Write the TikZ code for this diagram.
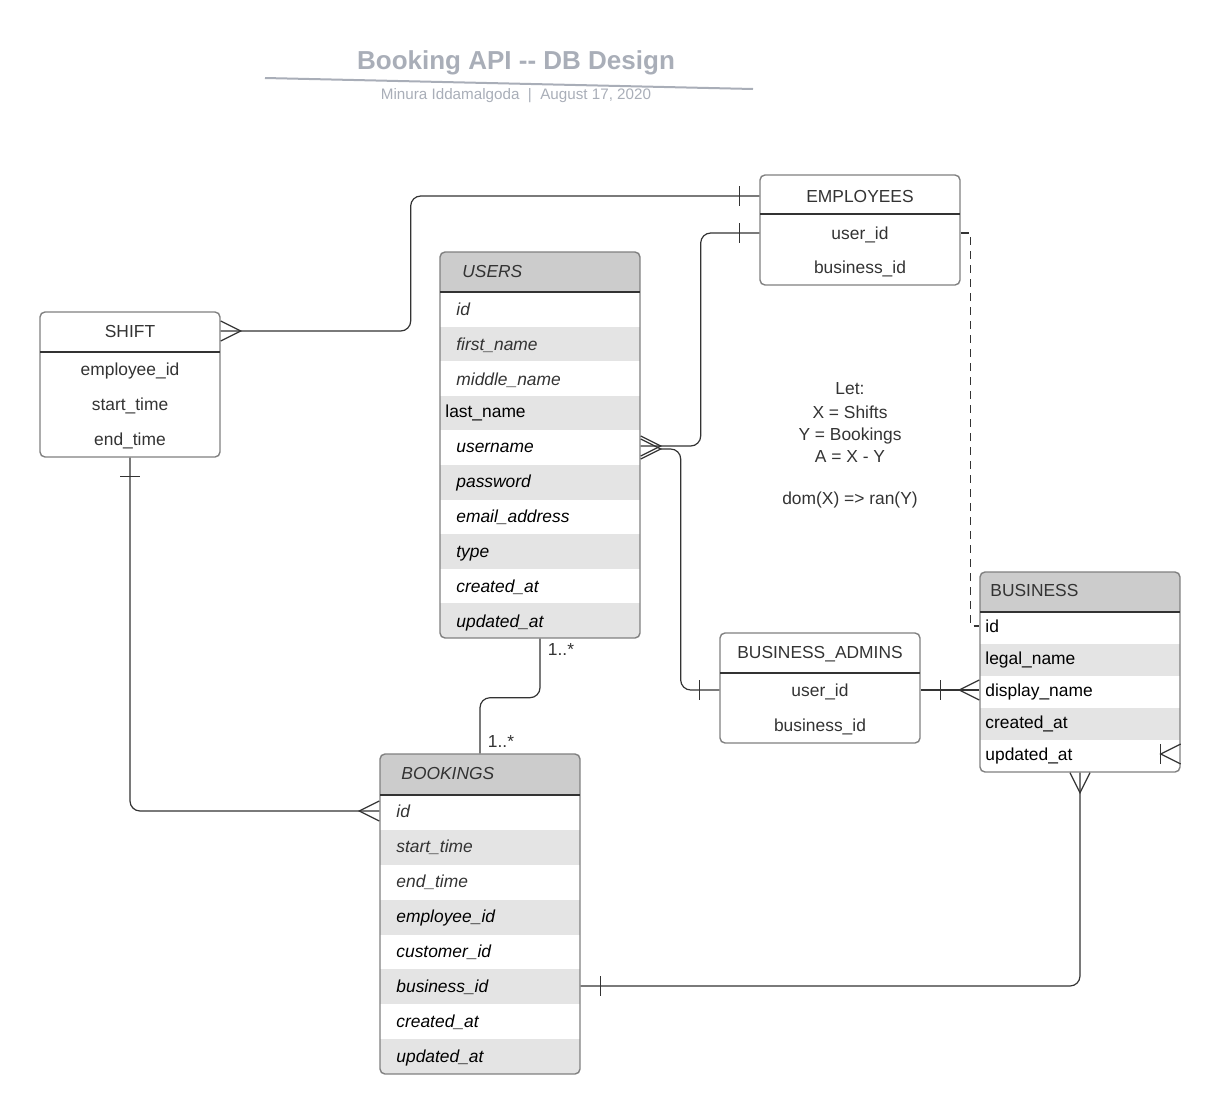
\documentclass[tikz,border=0pt]{standalone}
\usepackage{fontspec}
\setmainfont{Liberation Sans}
\usetikzlibrary{calc}
\definecolor{hdr}{HTML}{CCCCCC}
\definecolor{alt}{HTML}{E4E4E4}
\definecolor{frame}{HTML}{808080}
\definecolor{ink}{HTML}{333333}
\definecolor{ttl}{HTML}{A9AEB8}
\newcommand\fieldfont{\fontsize{8.7}{10}\selectfont}
\tikzstyle{table}=[draw=frame,line width=0.7pt,rounded corners=2.5pt,inner sep=0pt]
\tikzstyle{field}=[font=\fieldfont,text=ink,inner sep=0pt,text height=7pt,text depth=0.5pt]
\tikzstyle{left field}=[field,anchor=west]
\tikzstyle{conn}=[draw=ink,line width=0.6pt]
\tikzstyle{link}=[conn,rounded corners=5pt]
\newcommand{\mycrow}[2]
{  % #1 = point , #2 = rotation angle
  \begin{scope}[shift={(#1)},rotate=#2]
  \draw[conn] (0,-10) -- (20,0) -- (0,10);
  \end{scope}
}
\newcommand{\mybar}[2]
{  % #1 = point , #2 = rotation angle
  \begin{scope}[shift={(#1)},rotate=#2]
  \draw[conn] (0,-10) -- (0,10);
  \end{scope}
}
\begin{document}
\begin{tikzpicture}[x=0.5pt,y=-0.5pt]
  \useasboundingbox (0,0) rectangle (1221,1114);
  % title
  \node[font=\bfseries\fontsize{13}{15}\selectfont,text=ttl] (title) at (516,63) {Booking API -{}- DB Design};
  \draw[ttl,line width=1pt] (265,78) -- (753,89);
  \node[font=\fontsize{7.6}{9}\selectfont,text=ttl] (author) at (516,96) {Minura Iddamalgoda\ \ |\ \ August 17, 2020};
  % SHIFT
  \node[table,minimum width=90pt,minimum height=72.5pt] (shifts) at (130,384.5) {};
  \draw[conn] (40,352) -- (220,352);
  \node[field] (sh-title) at (130,331) {SHIFT};
  \node[field] (sh-employee) at (130,369) {employee\_id};
  \node[field] (sh-start) at (130,404) {start\_time};
  \node[field] (sh-end) at (130,439) {end\_time};
  % EMPLOYEES
  \node[table,minimum width=100pt,minimum height=55pt] (employees) at (860,230) {};
  \draw[conn] (760,214) -- (960,214);
  \node[field] (emp-title) at (860,196) {EMPLOYEES};
  \node[field] (emp-user) at (860,233) {user\_id};
  \node[field] (emp-business) at (860,267) {business\_id};
  % BUSINESS_ADMINS
  \node[table,minimum width=100pt,minimum height=55pt] (admins) at (820,688) {};
  \draw[conn] (720,673) -- (920,673);
  \node[field] (ad-title) at (820,652) {BUSINESS\_ADMINS};
  \node[field] (ad-user) at (820,690) {user\_id};
  \node[field] (ad-business) at (820,725) {business\_id};
  % USERS
  \begin{scope}
    \clip[rounded corners=2.5pt] (440,252) rectangle (640,638);
    \fill[hdr] (440,252) rectangle (640,292);
    \fill[alt] (440,326.6) rectangle (640,361.2);
    \fill[alt] (440,395.8) rectangle (640,430.4);
    \fill[alt] (440,465) rectangle (640,499.6);
    \fill[alt] (440,534.2) rectangle (640,568.8);
    \fill[alt] (440,603.4) rectangle (640,638);
  \end{scope}
  \node[table,minimum width=100pt,minimum height=193pt] (users) at (540,445) {};
  \draw[conn] (440,292) -- (640,292);
  \node[left field] (u-title) at (462,271) {\textit{USERS}};
  \node[left field] (u-id) at (456,309) {\textit{id}};
  \node[left field] (u-first) at (456,344) {\textit{first\_name}};
  \node[left field] (u-middle) at (456,379) {\textit{middle\_name}};
  \node[left field,text=black] (u-last) at (445,411) {last\_name};
  \node[left field,text=black] (u-username) at (456,446) {\textit{username}};
  \node[left field,text=black] (u-password) at (456,481) {\textit{password}};
  \node[left field,text=black] (u-email) at (456,516) {\textit{email\_address}};
  \node[left field,text=black] (u-type) at (456,551) {\textit{type}};
  \node[left field,text=black] (u-created) at (456,586) {\textit{created\_at}};
  \node[left field,text=black] (u-updated) at (456,621) {\textit{updated\_at}};
  % BOOKINGS
  \begin{scope}
    \clip[rounded corners=2.5pt] (380,754) rectangle (580,1074);
    \fill[hdr] (380,754) rectangle (580,795);
    \fill[alt] (380,829.9) rectangle (580,864.8);
    \fill[alt] (380,899.6) rectangle (580,934.5);
    \fill[alt] (380,969.4) rectangle (580,1004.3);
    \fill[alt] (380,1039.1) rectangle (580,1074);
  \end{scope}
  \node[table,minimum width=100pt,minimum height=160pt] (bookings) at (480,914) {};
  \draw[conn] (380,795) -- (580,795);
  \node[left field] (bk-title) at (401,773) {\textit{BOOKINGS}};
  \node[left field] (bk-id) at (396,811) {\textit{id}};
  \node[left field] (bk-start) at (396,846) {\textit{start\_time}};
  \node[left field] (bk-end) at (396,881) {\textit{end\_time}};
  \node[left field,text=black] (bk-employee) at (396,916) {\textit{employee\_id}};
  \node[left field,text=black] (bk-customer) at (396,951) {\textit{customer\_id}};
  \node[left field,text=black] (bk-business) at (396,986) {\textit{business\_id}};
  \node[left field,text=black] (bk-created) at (396,1021) {\textit{created\_at}};
  \node[left field,text=black] (bk-updated) at (396,1056) {\textit{updated\_at}};
  % BUSINESS
  \begin{scope}
    \clip[rounded corners=2.5pt] (980,572) rectangle (1180,772);
    \fill[hdr] (980,572) rectangle (1180,612);
    \fill[alt] (980,644) rectangle (1180,676);
    \fill[alt] (980,708) rectangle (1180,740);
  \end{scope}
  \node[table,minimum width=100pt,minimum height=100pt] (business) at (1080,672) {};
  \draw[conn] (980,612) -- (1180,612);
  \node[left field] (bz-title) at (990,590) {BUSINESS};
  \node[left field,text=black] (bz-id) at (985,626) {id};
  \node[left field,text=black] (bz-legal) at (985,658) {legal\_name};
  \node[left field,text=black] (bz-display) at (985,690) {display\_name};
  \node[left field,text=black] (bz-created) at (985,722) {created\_at};
  \node[left field,text=black] (bz-updated) at (985,754) {updated\_at};
  % note
  \node[field] (let-a) at (850,388) {Let:};
  \node[field] (let-b) at (850,412) {X = Shifts};
  \node[field] (let-c) at (850,434) {Y = Bookings};
  \node[field] (let-d) at (850,456) {A = X - Y};
  \node[field] (let-e) at (850,498) {dom(X) => ran(Y)};
  % relations
  \draw[link] (shifts.east |- sh-title) -- ++(190,0) |- (employees.west |- emp-title);
  \mycrow{shifts.east |- sh-title}{0}
  \mybar{$(employees.west |- emp-title)+(-20,0)$}{0}
  \draw[link] (users.east |- u-username) -- ++(60,0) |- (employees.west |- emp-user);
  \mycrow{users.east |- u-username}{0}
  \mybar{$(employees.west |- emp-user)+(-20,0)$}{0}
  \draw[link] ($(users.east |- u-username)+(20,3)$) -- ++(20,0) |- (admins.west |- ad-user);
  \mycrow{$(users.east |- u-username)+(0,3)$}{0}
  \mybar{$(admins.west |- ad-user)+(-20,0)$}{0}
  \draw[conn] (admins.east |- ad-user) -- (business.west |- bz-display);
  \mybar{$(admins.east |- ad-user)+(20,0)$}{0}
  \mycrow{business.west |- bz-display}{180}
  \draw[conn,dash pattern=on 4pt off 3pt] (employees.east |- emp-user) -- ++(10,0) |- (business.west |- bz-id);
  \draw[link] (users.south) -- ++(0,59) -| (bookings.north);
  \node[field] (card-u) at (561,649) {1..*};
  \node[field] (card-b) at (501,741) {1..*};
  \draw[link] (shifts.south) |- (bookings.west |- bk-id);
  \mybar{$(shifts.south)+(0,19)$}{90}
  \mycrow{bookings.west |- bk-id}{180}
  \draw[link] (bookings.east |- bk-business) -| (business.south);
  \mybar{$(bookings.east |- bk-business)+(20,0)$}{0}
  \mycrow{business.south}{-90}
  \mycrow{business.east |- bz-updated}{180}
  \mybar{$(business.east |- bz-updated)+(-20,0)$}{0}
\end{tikzpicture}
\end{document}
